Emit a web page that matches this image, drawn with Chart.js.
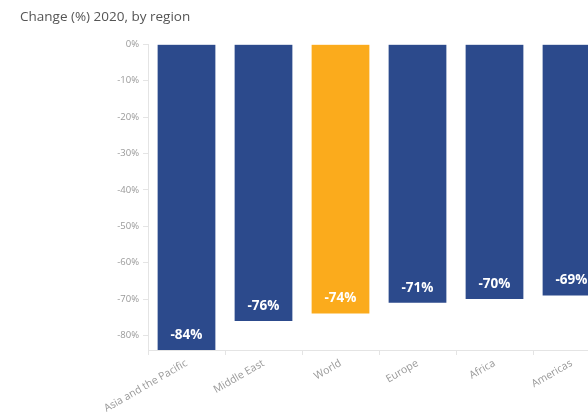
<!DOCTYPE html>
<html>
<head>
<meta charset="utf-8">
<script src="https://cdn.jsdelivr.net/npm/chart.js@4/dist/chart.umd.min.js"></script>
<style>
    html, body { margin: 0; padding: 0; overflow: hidden; background: #fff; }
    #wrap { position: relative; width: 610px; height: 412px; }
</style>
</head>
<body>
<div id="wrap"><canvas id="region_chart_area"></canvas></div>
<script>
"use strict"
// chart values
var regions = ["Asia and the Pacific", "Middle East", "World", "Europe", "Africa", "Americas"];
var changes = [-84, -76, -74, -71, -70, -69];
var yTicks = [0, -10, -20, -30, -40, -50, -60, -70, -80];

var blue = "#2c4a8c";
var orange = "#fbab1c";
var barColors = regions.map(function(r){ return r === "World" ? orange : blue; });

// white % labels near the bottom of each bar
var barLabels = {
    id: 'barLabels',
    afterDatasetsDraw: function(chart){
        var ctx = chart.ctx;
        var meta = chart.getDatasetMeta(0);
        ctx.save();
        ctx.fillStyle = "#ffffff";
        ctx.font = "bold 13.5px 'Open Sans'";
        ctx.textAlign = "center";
        ctx.textBaseline = "middle";
        meta.data.forEach(function(bar, i){
            ctx.fillText(changes[i] + "%", bar.x, bar.y - 15);
        });
        ctx.restore();
    }
};

var regionChartArea = document.getElementById("region_chart_area");
var regionBarChart = new Chart(regionChartArea, {
    type: 'bar',
    data: {
        labels: regions,
        datasets: [
            {
                label: "Change (%)",
                data: changes,
                backgroundColor: barColors,
                borderWidth: 0,
                categoryPercentage: 1,
                barPercentage: 0.75
            }
        ]
    },
    plugins: [barLabels],
    options: {
        responsive: true,
        maintainAspectRatio: false,
        animation: false,
        layout: { padding: { left: 20, right: 0, top: 0, bottom: 0 } },
        plugins: {
            legend: { display: false },
            tooltip: { enabled: false },
            title: {
                display: true,
                text: "Change (%) 2020, by region",
                align: 'start',
                color: "#555",
                font: { family: "'Open Sans'", size: 13.5, weight: 'normal' },
                padding: { top: 9, bottom: 19 }
            }
        },
        scales: {
            x: {
                grid: { display: true, drawOnChartArea: false, drawTicks: true, tickLength: 5, color: "#e4e4e4" },
                border: { display: true, color: "#e4e4e4" },
                ticks: {
                    color: "#999",
                    font: { family: "'Open Sans'", size: 10.5 },
                    minRotation: 30,
                    maxRotation: 30,
                    autoSkip: false,
                    padding: 2
                },
                afterFit: function(scale){ scale.height = 62; }
            },
            y: {
                min: -84,
                max: 0,
                grid: { display: true, drawOnChartArea: false, drawTicks: true, tickLength: 5, color: "#e4e4e4" },
                border: { display: true, color: "#e4e4e4" },
                ticks: {
                    color: "#999",
                    font: { family: "'Open Sans'", size: 9.5 },
                    padding: 4,
                    callback: function(v){ return v + "%"; }
                },
                afterBuildTicks: function(scale){
                    scale.ticks = yTicks.map(function(v){ return { value: v }; });
                },
                afterFit: function(scale){ scale.width = 128; }
            }
        }
    }
});
</script>
</body>
</html>
